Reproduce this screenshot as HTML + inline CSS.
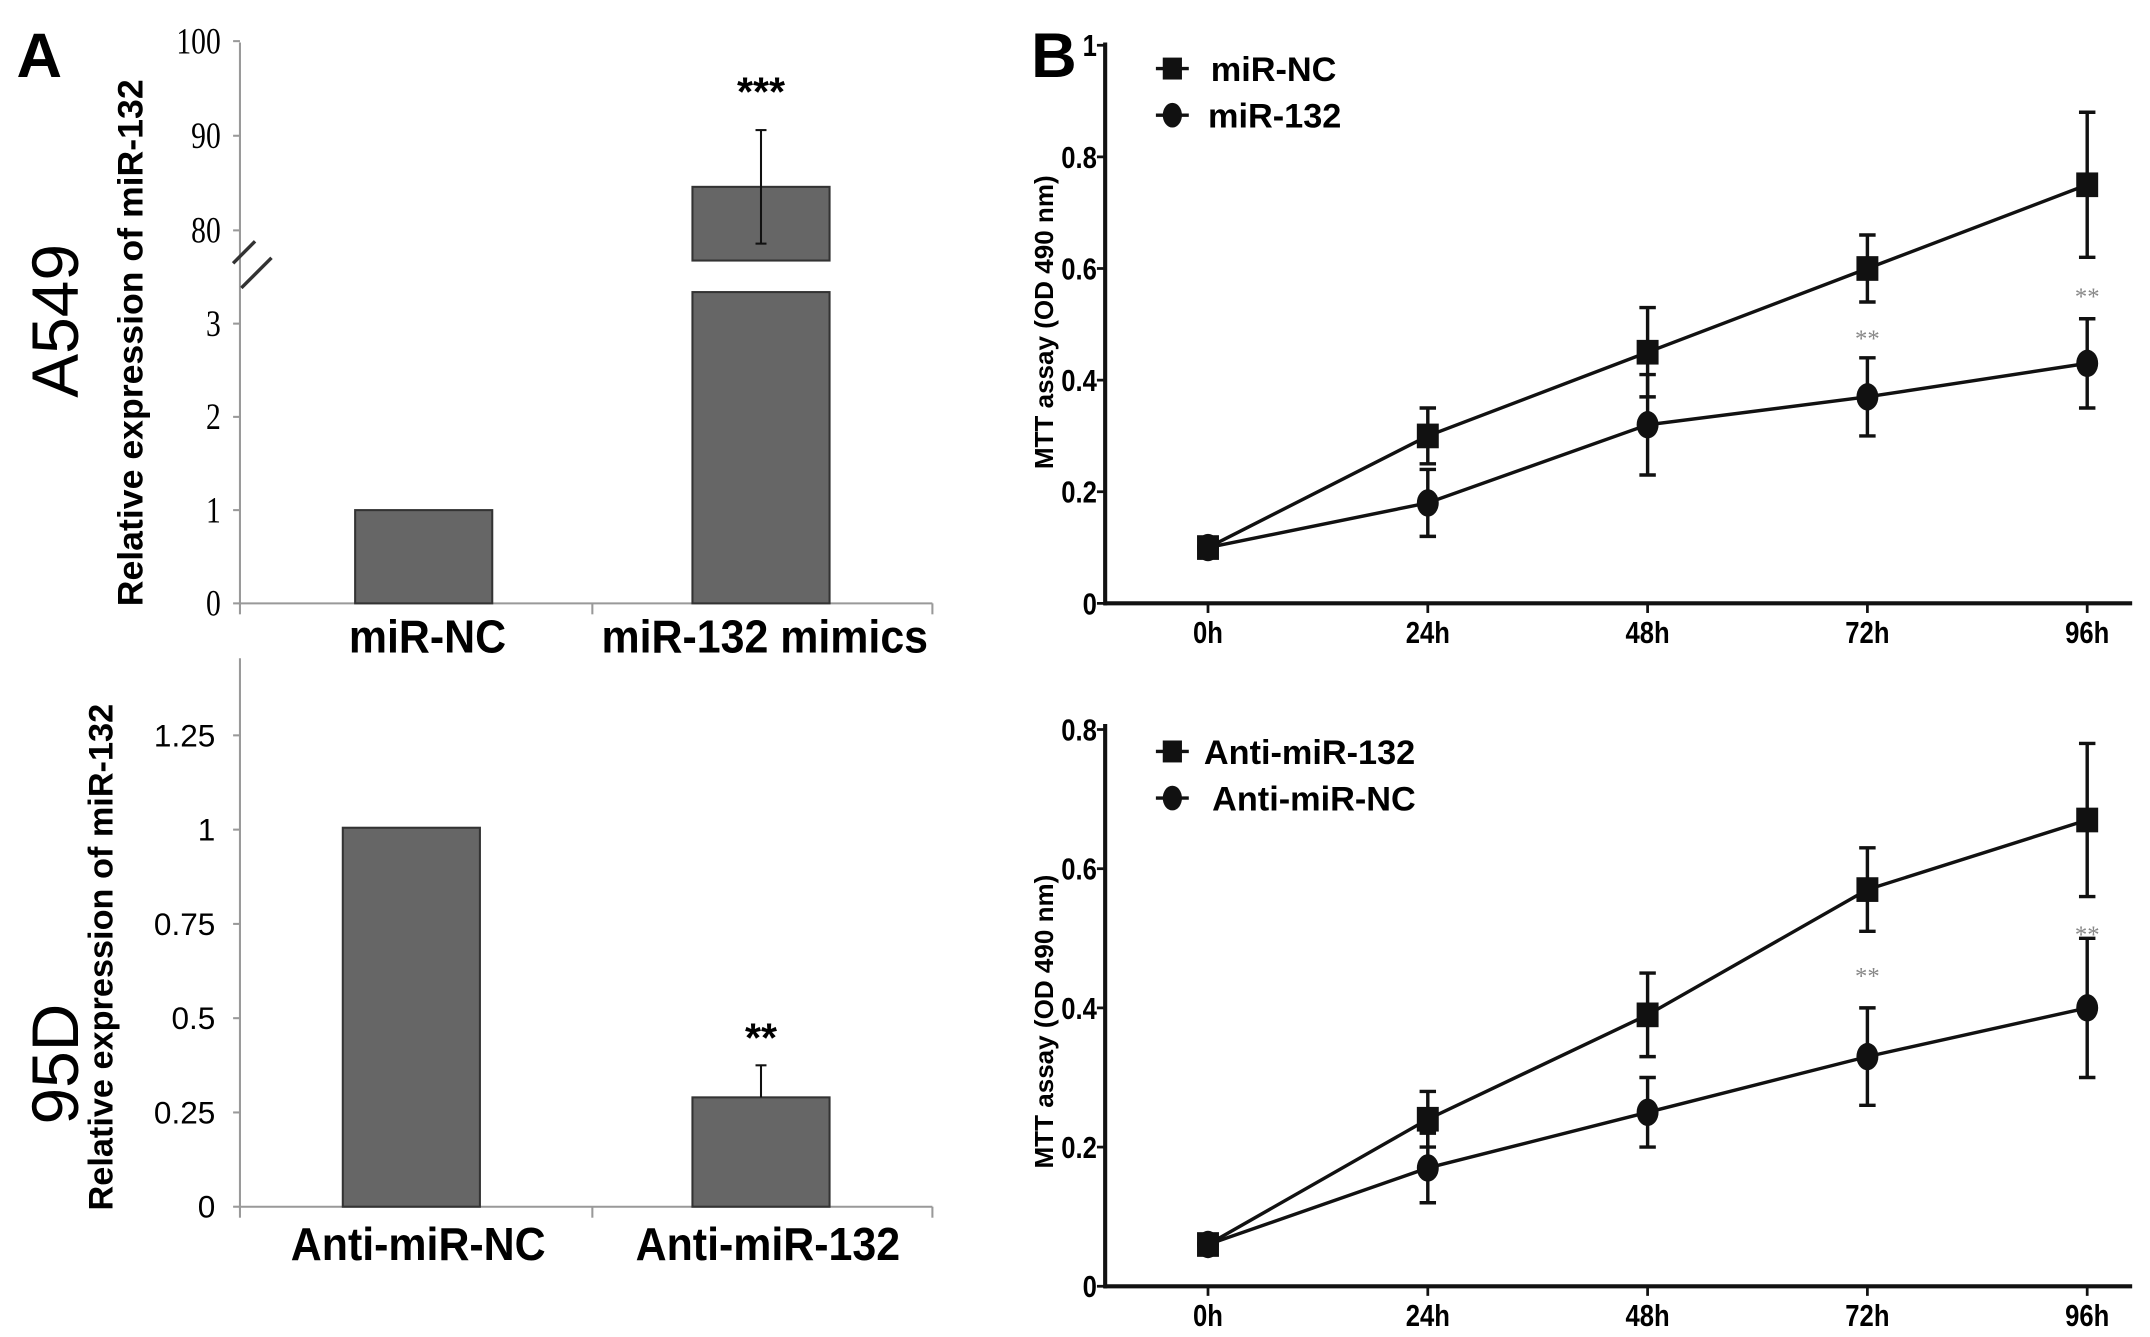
<!DOCTYPE html>
<html><head><meta charset="utf-8"><style>
html,body{margin:0;padding:0;background:#fff;}
svg{display:block;}
.ser{font-family:"Liberation Serif",serif;}
.san{font-family:"Liberation Sans",sans-serif;}
</style></head><body>
<svg id="fig" width="2150" height="1337" viewBox="0 0 1568 975" preserveAspectRatio="none" xmlns="http://www.w3.org/2000/svg">
<text class="san" x="12" y="56" font-size="46" font-weight="bold">A</text>
<text class="san" x="752" y="56" font-size="46" font-weight="bold">B</text>
<text class="san" transform="translate(57,234) rotate(-90)" text-anchor="middle" font-size="48">A549</text>
<text class="san" transform="translate(57,776) rotate(-90)" text-anchor="middle" font-size="48">95D</text>
<text class="san" transform="translate(104,250) rotate(-90)" text-anchor="middle" font-size="26" font-weight="bold">Relative expression of miR-132</text>
<text class="san" transform="translate(82,698) rotate(-90)" text-anchor="middle" font-size="25" font-weight="bold">Relative expression of miR-132</text>
<text class="san" transform="translate(768,235) rotate(-90)" text-anchor="middle" font-size="19" font-weight="bold">MTT assay (OD 490 nm)</text>
<text class="san" transform="translate(768,745) rotate(-90)" text-anchor="middle" font-size="19" font-weight="bold">MTT assay (OD 490 nm)</text>
<g id="g"></g>
</svg>
<script>
// Panel A top (A549)
const a1Cats = ["miR-NC", "miR-132 mimics"];
const a1Vals = [1, 84.6];
const a1Err = [0, 6];
const a1LowTicks = [0, 1, 2, 3];
const a1HighTicks = [80, 90, 100];
// Panel A bottom (95D)
const a2Cats = ["Anti-miR-NC", "Anti-miR-132"];
const a2Vals = [1.005, 0.29];
const a2Err = [0, 0.085];
const a2Ticks = [0, 0.25, 0.5, 0.75, 1, 1.25];
const a2TickLabels = ["0", "0.25", "0.5", "0.75", "1", "1.25"];
// Panel B
const bTimes = ["0h", "24h", "48h", "72h", "96h"];
const b1Ticks = [0, 0.2, 0.4, 0.6, 0.8, 1];
const b1TickLabels = ["0", "0.2", "0.4", "0.6", "0.8", "1"];
const b1NC = [0.1, 0.3, 0.45, 0.6, 0.75];
const b1NCErr = [0, 0.05, 0.08, 0.06, 0.13];
const b1Mir = [0.1, 0.18, 0.32, 0.37, 0.43];
const b1MirErr = [0, 0.06, 0.09, 0.07, 0.08];
const b1Stars = [null, null, null, 0.48, 0.555];
const b2Ticks = [0, 0.2, 0.4, 0.6, 0.8];
const b2TickLabels = ["0", "0.2", "0.4", "0.6", "0.8"];
const b2Anti132 = [0.06, 0.24, 0.39, 0.57, 0.67];
const b2Anti132Err = [0, 0.04, 0.06, 0.06, 0.11];
const b2AntiNC = [0.06, 0.17, 0.25, 0.33, 0.40];
const b2AntiNCErr = [0, 0.05, 0.05, 0.07, 0.10];
const b2Stars = [null, null, null, 0.45, 0.51];

const NS = "http://www.w3.org/2000/svg";
const G = document.getElementById("g");
function mk(tag, attrs, text) {
  const e = document.createElementNS(NS, tag);
  for (const k in attrs) e.setAttribute(k, attrs[k]);
  if (text !== undefined) e.textContent = text;
  G.appendChild(e);
  return e;
}

// ---- A top ----
const yA1 = v => v <= 3.5 ? 440 - v * 68 : 168 - (v - 80) * 6.9;
let e;
e = mk("line", {x1:175, y1:31, x2:175, y2:441, stroke:"#999", "stroke-width":1.5});


e = mk("line", {x1:175, y1:440, x2:680, y2:440, stroke:"#999", "stroke-width":1.5});


[175, 432, 680].forEach(x => mk("line", {x1:x, y1:440, x2:x, y2:448, stroke:"#999", "stroke-width":1.5}));
a1LowTicks.concat(a1HighTicks).forEach(t => {
  const y = yA1(t);
  mk("line", {x1:170, y1:y, x2:175, y2:y, stroke:"#999", "stroke-width":1.5});
  e = mk("text", {x:161 / 0.8, y:y + 9, "text-anchor":"end", "font-size":27, class:"ser", transform:"scale(0.8,1)"}, String(t));
  
  
});
// break marks
mk("line", {x1:170, y1:192, x2:186, y2:176, stroke:"#333", "stroke-width":2.5});
mk("line", {x1:176, y1:210, x2:198, y2:188, stroke:"#333", "stroke-width":2.5});
const a1X = [309, 555];
a1Cats.forEach((c, i) => {
  const v = a1Vals[i], x = a1X[i];
  if (v > 3.5) {
    e = mk("rect", {x:x - 50, y:yA1(v), width:100, height:190 - yA1(v), fill:"#666", stroke:"#333", "stroke-width":1.5});
    
    
    e = mk("rect", {x:x - 50, y:213, width:100, height:227, fill:"#666", stroke:"#333", "stroke-width":1.5});
    
    
  } else {
    e = mk("rect", {x:x - 50, y:yA1(v), width:100, height:440 - yA1(v), fill:"#666", stroke:"#333", "stroke-width":1.5});
    
    
  }
  if (a1Err[i] > 0) {
    const y1 = yA1(v - a1Err[i]), y2 = yA1(v + a1Err[i]);
    mk("line", {x1:x, y1:y1, x2:x, y2:y2, stroke:"#111", "stroke-width":1.5});
    mk("line", {x1:x - 4, y1:y1, x2:x + 4, y2:y1, stroke:"#111", "stroke-width":1.5});
    mk("line", {x1:x - 4, y1:y2, x2:x + 4, y2:y2, stroke:"#111", "stroke-width":1.5});
    e = mk("text", {x:x, y:y2 - 18, "text-anchor":"middle", "font-size":30, "font-weight":"bold", class:"san"}, "***");
    
    
  }
  e = mk("text", {x:x / 0.92 + 3, y:476, "text-anchor":"middle", "font-size":34, "font-weight":"bold", class:"san", transform:"scale(0.92,1)"}, c);
  
  
});

// ---- A bottom ----
const yA2 = v => 880 - v * 275;
e = mk("line", {x1:175, y1:480, x2:175, y2:881, stroke:"#999", "stroke-width":1.5});


e = mk("line", {x1:175, y1:880, x2:680, y2:880, stroke:"#999", "stroke-width":1.5});


[175, 432, 680].forEach(x => mk("line", {x1:x, y1:880, x2:x, y2:888, stroke:"#999", "stroke-width":1.5}));
a2Ticks.forEach((t, i) => {
  const y = yA2(t);
  mk("line", {x1:170, y1:y, x2:175, y2:y, stroke:"#999", "stroke-width":1.5});
  e = mk("text", {x:157, y:y + 8, "text-anchor":"end", "font-size":23, class:"san"}, a2TickLabels[i]);
  
  
});
const a2X = [300, 555];
a2Cats.forEach((c, i) => {
  const v = a2Vals[i], x = a2X[i];
  e = mk("rect", {x:x - 50, y:yA2(v), width:100, height:880 - yA2(v), fill:"#666", stroke:"#333", "stroke-width":1.5});
  
  
  if (a2Err[i] > 0) {
    const y2 = yA2(v + a2Err[i]);
    mk("line", {x1:x, y1:yA2(v), x2:x, y2:y2, stroke:"#111", "stroke-width":1.5});
    mk("line", {x1:x - 4, y1:y2, x2:x + 4, y2:y2, stroke:"#111", "stroke-width":1.5});
    e = mk("text", {x:x, y:y2 - 10, "text-anchor":"middle", "font-size":30, "font-weight":"bold", class:"san"}, "**");
    
    
  }
  e = mk("text", {x:(x + 5) / 0.92, y:919, "text-anchor":"middle", "font-size":34, "font-weight":"bold", class:"san", transform:"scale(0.92,1)"}, c);
  
  
});

// ---- B panels ----
const bX = i => 881 + i * 160.3;
function linePanel(pre, y0, pxPerUnit, yTop, ticks, tickLabels, sA, sAe, sB, sBe, stars, legA, legB, legY, legAx, legBx) {
  const y = v => y0 - v * pxPerUnit;
  let e;
  e = mk("line", {x1:806, y1:yTop, x2:806, y2:y0 + 1.5, stroke:"#111", "stroke-width":3});
  
  
  e = mk("line", {x1:805, y1:y0, x2:1555, y2:y0, stroke:"#111", "stroke-width":3});
  
  
  ticks.forEach((t, i) => {
    mk("line", {x1:800, y1:y(t), x2:806, y2:y(t), stroke:"#111", "stroke-width":2});
    e = mk("text", {x:800 / 0.85, y:y(t) + 8, "text-anchor":"end", "font-size":22, "font-weight":"bold", class:"san", transform:"scale(0.85,1)"}, tickLabels[i]);
    
    
  });
  bTimes.forEach((t, i) => {
    mk("line", {x1:bX(i), y1:y0, x2:bX(i), y2:y0 + 7, stroke:"#111", "stroke-width":2});
    e = mk("text", {x:bX(i) / 0.85, y:y0 + 29, "text-anchor":"middle", "font-size":22, "font-weight":"bold", class:"san", transform:"scale(0.85,1)"}, t);
    
    
  });
  function series(vals, errs, square, nm) {
    const pts = vals.map((v, i) => bX(i) + "," + y(v)).join(" ");
    e = mk("polyline", {points:pts, fill:"none", stroke:"#111", "stroke-width":2.5});
    
    
    vals.forEach((v, i) => {
      const x = bX(i);
      if (errs[i] > 0) {
        const a = y(v - errs[i]), b = y(v + errs[i]);
        mk("line", {x1:x, y1:a, x2:x, y2:b, stroke:"#111", "stroke-width":2.5});
        mk("line", {x1:x - 6, y1:a, x2:x + 6, y2:a, stroke:"#111", "stroke-width":2.5});
        mk("line", {x1:x - 6, y1:b, x2:x + 6, y2:b, stroke:"#111", "stroke-width":2.5});
      }
      if (square) e = mk("rect", {x:x - 8, y:y(v) - 9, width:16, height:18, fill:"#111"});
      else e = mk("ellipse", {cx:x, cy:y(v), rx:8, ry:10, fill:"#111"});
      
      
    });
  }
  series(sA, sAe, true, pre + '-' + legA.toLowerCase());
  series(sB, sBe, false, pre + '-' + legB.toLowerCase());
  stars.forEach((s, i) => {
    if (s === null) return;
    e = mk("text", {x:bX(i), y:y(s) + 8, "text-anchor":"middle", "font-size":18, fill:"#888", class:"ser"}, "**");
    
    
  });
  // legend
  mk("line", {x1:843, y1:legY, x2:867, y2:legY, stroke:"#111", "stroke-width":2.5});
  mk("rect", {x:848, y:legY - 8, width:14, height:16, fill:"#111"});
  e = mk("text", {x:legAx, y:legY + 9, "font-size":25, "font-weight":"bold", class:"san"}, legA);
  
  
  mk("line", {x1:843, y1:legY + 34, x2:867, y2:legY + 34, stroke:"#111", "stroke-width":2.5});
  mk("ellipse", {cx:855, cy:legY + 34, rx:7, ry:9, fill:"#111"});
  e = mk("text", {x:legBx, y:legY + 43, "font-size":25, "font-weight":"bold", class:"san"}, legB);
  
  
}
linePanel("mtt-top", 440, 407, 31, b1Ticks, b1TickLabels, b1NC, b1NCErr, b1Mir, b1MirErr, b1Stars, "miR-NC", "miR-132", 50, 883, 881);
linePanel("mtt-bottom", 938, 507.5, 528, b2Ticks, b2TickLabels, b2Anti132, b2Anti132Err, b2AntiNC, b2AntiNCErr, b2Stars, "Anti-miR-132", "Anti-miR-NC", 548, 878, 884);
</script>
</body></html>
